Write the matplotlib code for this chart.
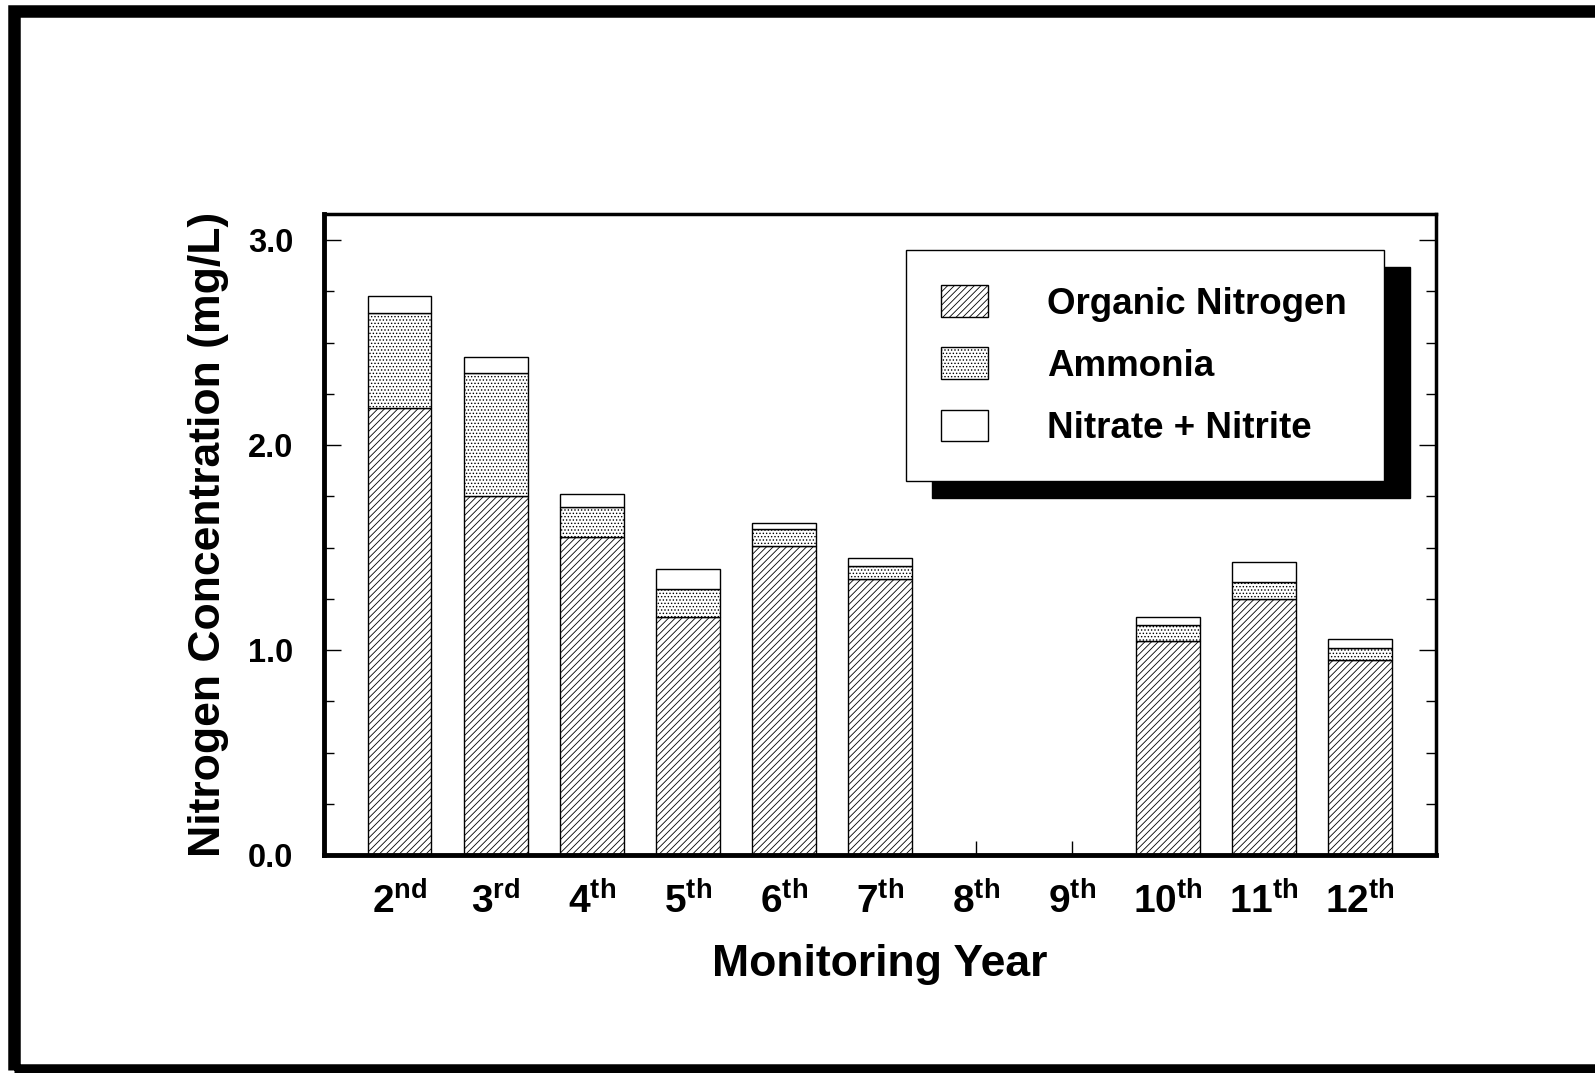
import matplotlib
matplotlib.use("Agg")
import matplotlib.pyplot as plt
from matplotlib.patches import Patch, Rectangle
import numpy as np

# --- Data ---
years = ["2", "3", "4", "5", "6", "7", "8", "9", "10", "11", "12"]
suffixes = ["nd", "rd", "th", "th", "th", "th", "th", "th", "th", "th", "th"]
organic_n = [2.18, 1.75, 1.55, 1.16, 1.51, 1.345, 0, 0, 1.045, 1.25, 0.95]
ammonia = [0.465, 0.60, 0.15, 0.14, 0.08, 0.065, 0, 0, 0.075, 0.08, 0.06]
nitrate_nitrite = [0.085, 0.08, 0.06, 0.095, 0.03, 0.04, 0, 0, 0.04, 0.10, 0.045]
series_names = ["Organic Nitrogen", "Ammonia", "Nitrate + Nitrite"]

# --- Style ---
plt.rcParams["font.family"] = ["Liberation Sans", "DejaVu Sans"]
plt.rcParams["font.weight"] = "bold"
plt.rcParams["mathtext.fontset"] = "custom"
plt.rcParams["mathtext.bf"] = "Liberation Sans:bold"
plt.rcParams["mathtext.rm"] = "Liberation Sans:bold"
plt.rcParams["mathtext.default"] = "bf"
plt.rcParams["hatch.linewidth"] = 0.6
plt.rcParams["hatch.color"] = "black"

fig = plt.figure(figsize=(15.95, 10.73), dpi=100)
ax = fig.add_axes([0.2031, 0.2032, 0.6972, 0.5978])
ax.set_axisbelow(True)

x = np.arange(len(years))
width = 0.66
organic_n = np.array(organic_n)
ammonia = np.array(ammonia)
nitrate_nitrite = np.array(nitrate_nitrite)

bar_kw = dict(width=width, edgecolor="black", linewidth=1.0)
ax.bar(x, organic_n, color="white", hatch="/////", **bar_kw)
ax.bar(x, ammonia, bottom=organic_n, color="white", hatch=".....", **bar_kw)
ax.bar(x, nitrate_nitrite, bottom=organic_n + ammonia, color="white", **bar_kw)

ax.set_xlim(-0.79, len(years) - 1 + 0.79)
ax.set_ylim(0, 3.13)

# --- Axes and ticks ---
ax.set_xticks(x)
ax.set_xticklabels([f"${y}^{{{s}}}$" for y, s in zip(years, suffixes)], fontsize=28)
ax.set_yticks([0, 1, 2, 3])
ax.set_yticklabels(["0.0", "1.0", "2.0", "3.0"], fontsize=23.5, fontweight="bold")
ax.set_yticks(np.arange(0, 3.01, 0.25), minor=True)
ax.tick_params(axis="y", which="major", direction="in", length=12, width=1,
               right=True, pad=22)
ax.tick_params(axis="y", which="minor", direction="in", length=7, width=1, right=True)
ax.tick_params(axis="x", which="major", direction="in", length=10, width=1, pad=20)

for side, lw in [("left", 3.5), ("bottom", 3.5), ("top", 2.5), ("right", 2.5)]:
    ax.spines[side].set_linewidth(lw)

ax.set_xlabel("Monitoring Year", fontsize=32, fontweight="bold", labelpad=16)
ax.set_ylabel("Nitrogen Concentration (mg/L)", fontsize=32, fontweight="bold", labelpad=14)

# --- Legend with heavy drop shadow ---
handles = [
    Patch(facecolor="white", edgecolor="black", hatch="/////", linewidth=1.0),
    Patch(facecolor="white", edgecolor="black", hatch=".....", linewidth=1.0),
    Patch(facecolor="white", edgecolor="black", linewidth=1.0),
]
leg = ax.legend(handles, series_names, loc="upper left",
                bbox_to_anchor=(0.523, 0.943, 0.43, 0.0), mode="expand",
                prop={"size": 26.5, "weight": "bold"},
                handlelength=1.3, handleheight=0.95, handletextpad=1.6,
                labelspacing=0.7, borderpad=0.95, borderaxespad=0,
                fancybox=False, framealpha=1,
                shadow={"color": "black", "alpha": 1, "ox": 18.7, "oy": -12.2})
leg.get_frame().set_edgecolor("black")
leg.get_frame().set_linewidth(1.0)

# --- Outer frame of the scanned page ---
fig.add_artist(Rectangle((0.0085, 0.003), 1.2, 0.987, transform=fig.transFigure,
                         fill=False, edgecolor="black", linewidth=9, clip_on=False))

fig.savefig("out.png", dpi=100)
